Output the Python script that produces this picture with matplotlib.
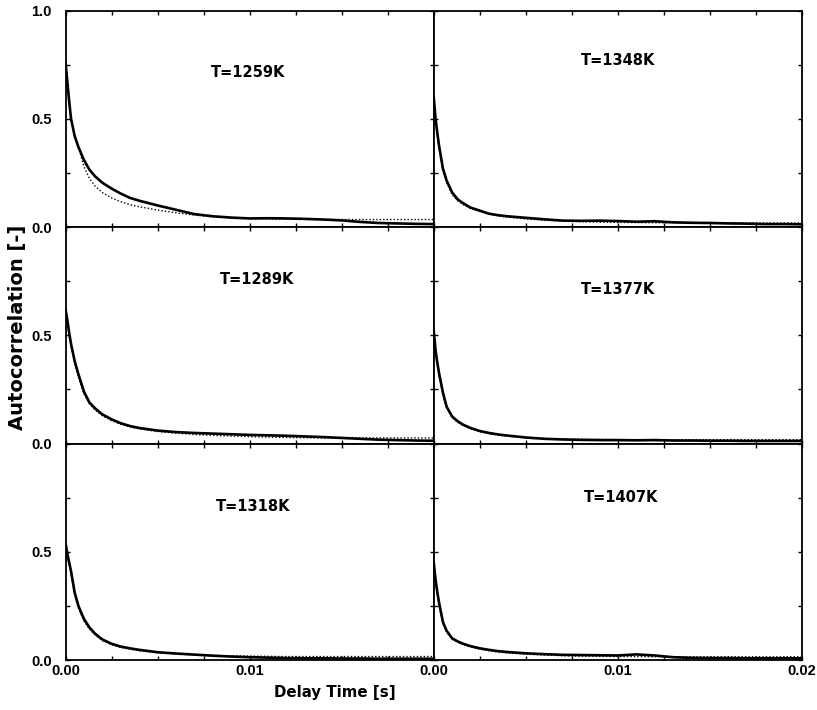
import matplotlib
matplotlib.use("Agg")
import matplotlib.pyplot as plt

plt.rcParams['font.family'] = ['Liberation Sans', 'DejaVu Sans']
plt.rcParams['font.weight'] = 'bold'

# delay time grid [s]
t = [0, 0.0001, 0.0002, 0.0003, 0.0005, 0.0007, 0.001, 0.0013, 0.0016, 0.002,
     0.0025, 0.003, 0.0035, 0.004, 0.005, 0.006, 0.007, 0.008, 0.009, 0.010,
     0.011, 0.012, 0.013, 0.014, 0.015, 0.016, 0.017, 0.018, 0.019, 0.020]

temps = ["T=1259K", "T=1348K", "T=1289K", "T=1377K", "T=1318K", "T=1407K"]

# measured autocorrelation (solid)
meas_1259 = [0.76, 0.67, 0.58, 0.50, 0.42, 0.37, 0.31, 0.265, 0.235, 0.205,
             0.178, 0.155, 0.135, 0.122, 0.100, 0.080, 0.060, 0.050, 0.044, 0.040,
             0.041, 0.040, 0.038, 0.035, 0.031, 0.024, 0.019, 0.017, 0.015, 0.014]
meas_1348 = [0.60, 0.50, 0.43, 0.37, 0.27, 0.215, 0.16, 0.128, 0.110, 0.090,
             0.076, 0.062, 0.055, 0.050, 0.043, 0.036, 0.030, 0.029, 0.030, 0.028,
             0.025, 0.027, 0.022, 0.020, 0.019, 0.017, 0.016, 0.014, 0.014, 0.013]
meas_1289 = [0.62, 0.57, 0.51, 0.46, 0.38, 0.32, 0.24, 0.19, 0.163, 0.135,
             0.112, 0.094, 0.081, 0.072, 0.060, 0.053, 0.049, 0.046, 0.043, 0.040,
             0.038, 0.036, 0.033, 0.030, 0.026, 0.022, 0.018, 0.016, 0.014, 0.013]
meas_1377 = [0.52, 0.43, 0.37, 0.32, 0.235, 0.17, 0.125, 0.103, 0.087, 0.072,
             0.058, 0.049, 0.042, 0.037, 0.028, 0.022, 0.019, 0.017, 0.016, 0.016,
             0.015, 0.016, 0.014, 0.014, 0.013, 0.013, 0.012, 0.012, 0.012, 0.012]
meas_1318 = [0.54, 0.49, 0.45, 0.41, 0.31, 0.25, 0.19, 0.15, 0.122, 0.095,
             0.075, 0.062, 0.054, 0.047, 0.036, 0.030, 0.025, 0.020, 0.016, 0.013,
             0.011, 0.009, 0.008, 0.008, 0.007, 0.007, 0.006, 0.006, 0.006, 0.006]
meas_1407 = [0.45, 0.37, 0.31, 0.26, 0.175, 0.135, 0.100, 0.086, 0.075, 0.064,
             0.054, 0.047, 0.041, 0.037, 0.031, 0.027, 0.024, 0.023, 0.022, 0.021,
             0.026, 0.021, 0.013, 0.010, 0.009, 0.009, 0.008, 0.008, 0.008, 0.008]

# model fit (dotted)
fit_1259 = [0.78, 0.66, 0.57, 0.50, 0.42, 0.37, 0.28, 0.225, 0.19, 0.160,
            0.135, 0.117, 0.104, 0.094, 0.079, 0.066, 0.056, 0.048, 0.043, 0.040,
            0.038, 0.037, 0.036, 0.035, 0.035, 0.035, 0.035, 0.035, 0.035, 0.035]
fit_1348 = [0.60, 0.49, 0.42, 0.36, 0.26, 0.205, 0.15, 0.122, 0.104, 0.086,
            0.072, 0.060, 0.052, 0.046, 0.038, 0.032, 0.028, 0.025, 0.023, 0.022,
            0.021, 0.020, 0.020, 0.019, 0.019, 0.019, 0.019, 0.019, 0.019, 0.019]
fit_1289 = [0.62, 0.56, 0.50, 0.45, 0.37, 0.31, 0.23, 0.183, 0.155, 0.128,
            0.106, 0.089, 0.077, 0.068, 0.056, 0.048, 0.042, 0.038, 0.035, 0.032,
            0.030, 0.028, 0.027, 0.026, 0.026, 0.026, 0.026, 0.026, 0.026, 0.026]
fit_1377 = [0.52, 0.42, 0.36, 0.31, 0.225, 0.165, 0.12, 0.099, 0.083, 0.068,
            0.055, 0.046, 0.039, 0.034, 0.027, 0.023, 0.021, 0.020, 0.019, 0.018,
            0.018, 0.018, 0.018, 0.018, 0.018, 0.018, 0.018, 0.018, 0.018, 0.018]
fit_1318 = [0.54, 0.48, 0.44, 0.40, 0.30, 0.24, 0.18, 0.143, 0.116, 0.090,
            0.071, 0.058, 0.050, 0.043, 0.034, 0.028, 0.024, 0.021, 0.019, 0.018,
            0.017, 0.016, 0.016, 0.016, 0.016, 0.016, 0.016, 0.016, 0.016, 0.016]
fit_1407 = [0.45, 0.36, 0.30, 0.25, 0.17, 0.13, 0.096, 0.082, 0.071, 0.060,
            0.050, 0.043, 0.037, 0.033, 0.027, 0.023, 0.020, 0.018, 0.017, 0.016,
            0.016, 0.015, 0.015, 0.015, 0.015, 0.015, 0.015, 0.015, 0.015, 0.015]

measured = [meas_1259, meas_1348, meas_1289, meas_1377, meas_1318, meas_1407]
fitted = [fit_1259, fit_1348, fit_1289, fit_1377, fit_1318, fit_1407]

label_pos = [(0.495, 0.715), (0.50, 0.77), (0.52, 0.76),
             (0.50, 0.71), (0.51, 0.71), (0.51, 0.75)]

xticks = [0, 0.0025, 0.005, 0.0075, 0.01, 0.0125, 0.015, 0.0175, 0.02]
yticks = [0, 0.25, 0.5, 0.75, 1.0]

fig = plt.figure(figsize=(8.17, 7.10), dpi=100)
gs = fig.add_gridspec(3, 2, left=0.0802, right=0.9816, top=0.985, bottom=0.0704,
                      hspace=0, wspace=0)

for i in range(6):
    r, c = divmod(i, 2)
    ax = fig.add_subplot(gs[r, c])
    ax.plot(t, fitted[i], color='black', lw=1.0, ls=(0, (1, 1.5)))
    ax.plot(t, measured[i], color='black', lw=1.9)
    ax.set_xlim(0, 0.02)
    ax.set_ylim(0, 1.0)
    ax.set_xticks(xticks)
    ax.set_yticks(yticks)
    ax.tick_params(direction='in', length=3, width=1, top=True, right=True,
                   labelsize=10.5, pad=3)
    ax.tick_params(axis='y', pad=10)
    for s in ax.spines.values():
        s.set_linewidth(1.3)
    # y labels only on left column
    if c == 0:
        if r == 0:
            ax.set_yticklabels(['0.0', '', '0.5', '', '1.0'], fontweight='bold')
        else:
            ax.set_yticklabels(['0.0', '', '0.5', '', ''], fontweight='bold')
    else:
        ax.set_yticklabels([])
    if r == 2:
        if c == 0:
            ax.set_xticklabels(['0.00', '', '', '', '0.01', '', '', '', ''],
                               fontweight='bold')
        else:
            ax.set_xticklabels(['0.00', '', '', '', '0.01', '', '', '', '0.02'],
                               fontweight='bold')
    else:
        ax.set_xticklabels([])
    ax.text(label_pos[i][0], label_pos[i][1], temps[i], transform=ax.transAxes,
            ha='center', va='center', fontsize=10.5, fontweight='bold',
            family=['DejaVu Sans'])

fig.text(0.022, 1 - 327 / 710, "Autocorrelation [-]", rotation=90,
         ha='center', va='center', fontsize=14, fontweight='bold',
         family=['DejaVu Sans'])
fig.text(335 / 817, 1 - 693 / 710, "Delay Time [s]", ha='center', va='center',
         fontsize=10.8, fontweight='bold', family=['DejaVu Sans'])

fig.savefig("out.png", dpi=100)
